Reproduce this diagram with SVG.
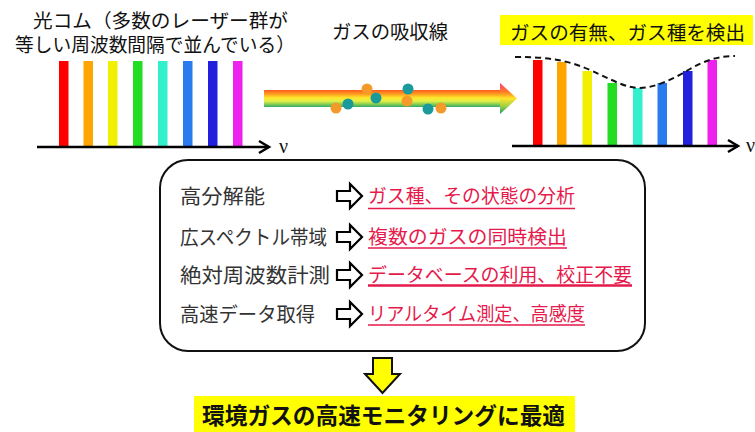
<svg xmlns="http://www.w3.org/2000/svg" width="755" height="432" viewBox="0 0 755 432">
<style>
.jp{font-family:"Noto Sans CJK JP","Noto Sans",sans-serif}
.ttl{font-size:19px;fill:#111}
.lbl{font-size:20px;fill:#333}
.red{font-size:19px;fill:#e6194b}
.ul{stroke:#e6194b;stroke-width:1.5}
.bar{stroke:none}
.axis{stroke:#000;stroke-width:2.5;fill:none}
.chev{stroke:#000;stroke-width:2.5;fill:none;stroke-linejoin:miter}
.nu{font-family:"Liberation Serif",serif;font-size:20px;fill:#111}
.hol{fill:#fff;stroke:#000;stroke-width:2.2;stroke-linejoin:miter}
.dot-o{fill:#f39a2a}
.dot-t{fill:#1a9a9a}
</style>
<defs>
<linearGradient id="shaft" x1="0" y1="90" x2="0" y2="107" gradientUnits="userSpaceOnUse">
<stop offset="0" stop-color="#ff5a1e"/>
<stop offset="0.25" stop-color="#ffa020"/>
<stop offset="0.45" stop-color="#ffe52a"/>
<stop offset="0.65" stop-color="#e4f04a"/>
<stop offset="0.82" stop-color="#90d050"/>
<stop offset="1" stop-color="#2eaa6a"/>
</linearGradient>
<linearGradient id="head" x1="0" y1="83" x2="0" y2="114" gradientUnits="userSpaceOnUse">
<stop offset="0" stop-color="#ff3a7a"/>
<stop offset="0.3" stop-color="#ff8020"/>
<stop offset="0.5" stop-color="#ffe52a"/>
<stop offset="0.75" stop-color="#a0d040"/>
<stop offset="1" stop-color="#1a9a70"/>
</linearGradient>
</defs>
<rect width="755" height="432" fill="#fff"/>

<g id="comb">
<text class="jp ttl" x="33" y="28" textLength="255" lengthAdjust="spacingAndGlyphs">光コム（多数のレーザー群が</text>
<text class="jp ttl" x="15" y="52" textLength="280" lengthAdjust="spacingAndGlyphs">等しい周波数間隔で並んでいる）</text>
<rect class="bar" x="59" y="61" width="9.5" height="86" fill="#ff0000"/>
<rect class="bar" x="83.5" y="61" width="9.5" height="86" fill="#ffa500"/>
<rect class="bar" x="108" y="61" width="9.5" height="86" fill="#f0f000"/>
<rect class="bar" x="133" y="61" width="9.5" height="86" fill="#22dd22"/>
<rect class="bar" x="158" y="61" width="9.5" height="86" fill="#33f0cc"/>
<rect class="bar" x="183" y="61" width="9.5" height="86" fill="#2a7af0"/>
<rect class="bar" x="208" y="61" width="9.5" height="86" fill="#2020dd"/>
<rect class="bar" x="233" y="61" width="9.5" height="86" fill="#ee22ee"/>
<line class="axis" x1="37" y1="147" x2="269" y2="147"/>
<polyline class="chev" points="259,141 269,147 259,153"/>
<text class="nu" x="279" y="153">ν</text>
</g>

<g id="absorption">
<text class="jp ttl" x="332" y="39" textLength="116" lengthAdjust="spacingAndGlyphs">ガスの吸収線</text>
<rect x="264" y="90" width="237" height="17" fill="url(#shaft)"/>
<polygon points="500,83 517,98.5 500,114" fill="url(#head)"/>
<circle class="dot-o" cx="336" cy="108" r="5.5"/>
<circle class="dot-t" cx="348" cy="104" r="5.5"/>
<circle class="dot-o" cx="367" cy="89" r="5.5"/>
<circle class="dot-t" cx="376" cy="98" r="5.5"/>
<circle class="dot-o" cx="407" cy="101" r="5.5"/>
<circle class="dot-t" cx="408" cy="89" r="5.5"/>
<circle class="dot-t" cx="428" cy="109" r="5.5"/>
<circle class="dot-o" cx="441" cy="108" r="5.5"/>
</g>

<g id="detect">
<rect x="500" y="15" width="253" height="30" fill="#ffff00"/>
<text class="jp ttl" x="510" y="40" textLength="235" lengthAdjust="spacingAndGlyphs">ガスの有無、ガス種を検出</text>
<rect class="bar" x="533" y="60" width="9.5" height="86" fill="#ff0000"/>
<rect class="bar" x="557" y="62" width="9.5" height="84" fill="#ffa500"/>
<rect class="bar" x="582.5" y="71" width="9.5" height="75" fill="#f0f000"/>
<rect class="bar" x="607.5" y="83" width="9.5" height="63" fill="#22dd22"/>
<rect class="bar" x="633" y="88" width="9.5" height="58" fill="#33f0cc"/>
<rect class="bar" x="657.5" y="83" width="9.5" height="63" fill="#2a7af0"/>
<rect class="bar" x="683" y="71" width="9.5" height="75" fill="#2020dd"/>
<rect class="bar" x="707.5" y="60" width="9.5" height="86" fill="#ee22ee"/>
<path d="M515,57 C545,57 565,59 590,70 S625,88 640,88 S675,78 690,69 S720,56 735,56" fill="none" stroke="#111" stroke-width="2" stroke-dasharray="6,4"/>
<line class="axis" x1="512" y1="146" x2="738" y2="146"/>
<polyline class="chev" points="728,140 738,146 728,152"/>
<text class="nu" x="746" y="152">ν</text>
</g>

<g id="features">
<rect x="160" y="160" width="485" height="191" rx="28" ry="28" fill="#fff" stroke="#111" stroke-width="2"/>
<text class="jp lbl" x="180" y="204" textLength="85" lengthAdjust="spacingAndGlyphs">高分解能</text>
<text class="jp lbl" x="180" y="245" textLength="147" lengthAdjust="spacingAndGlyphs">広スペクトル帯域</text>
<text class="jp lbl" x="180" y="283" textLength="150" lengthAdjust="spacingAndGlyphs">絶対周波数計測</text>
<text class="jp lbl" x="180" y="322" textLength="135" lengthAdjust="spacingAndGlyphs">高速データ取得</text>
<polygon class="hol" points="337,191 350,191 350,184 362,196 350,208 350,201 337,201"/>
<polygon class="hol" points="337,232 350,232 350,225 362,237 350,249 350,242 337,242"/>
<polygon class="hol" points="337,270 350,270 350,263 362,275 350,287 350,280 337,280"/>
<polygon class="hol" points="337,309 350,309 350,302 362,314 350,326 350,319 337,319"/>
<text class="jp red" x="368" y="203" textLength="207" lengthAdjust="spacingAndGlyphs">ガス種、その状態の分析</text>
<text class="jp red" x="368" y="244" textLength="199" lengthAdjust="spacingAndGlyphs">複数のガスの同時検出</text>
<text class="jp red" x="368" y="282" textLength="264" lengthAdjust="spacingAndGlyphs">データベースの利用、校正不要</text>
<text class="jp red" x="368" y="321" textLength="217" lengthAdjust="spacingAndGlyphs">リアルタイム測定、高感度</text>
<line class="ul" x1="368" y1="208.5" x2="575" y2="208.5"/>
<line class="ul" x1="368" y1="248" x2="567" y2="248"/>
<line class="ul" x1="368" y1="285.5" x2="632" y2="285.5" style="stroke-width:2.5"/>
<line class="ul" x1="368" y1="325" x2="585" y2="325"/>
</g>

<g id="connectors">
<polygon points="373,358 392,358 392,374 400,374 382.5,393 365,374 373,374" fill="#ffff00" stroke="#111" stroke-width="2" stroke-linejoin="miter"/>
</g>

<g id="result">
<rect x="194" y="396" width="381" height="36" fill="#ffff00"/>
<text class="jp" x="202" y="424" font-size="23" font-weight="bold" fill="#111" textLength="363" lengthAdjust="spacingAndGlyphs">環境ガスの高速モニタリングに最適</text>
</g>
</svg>
